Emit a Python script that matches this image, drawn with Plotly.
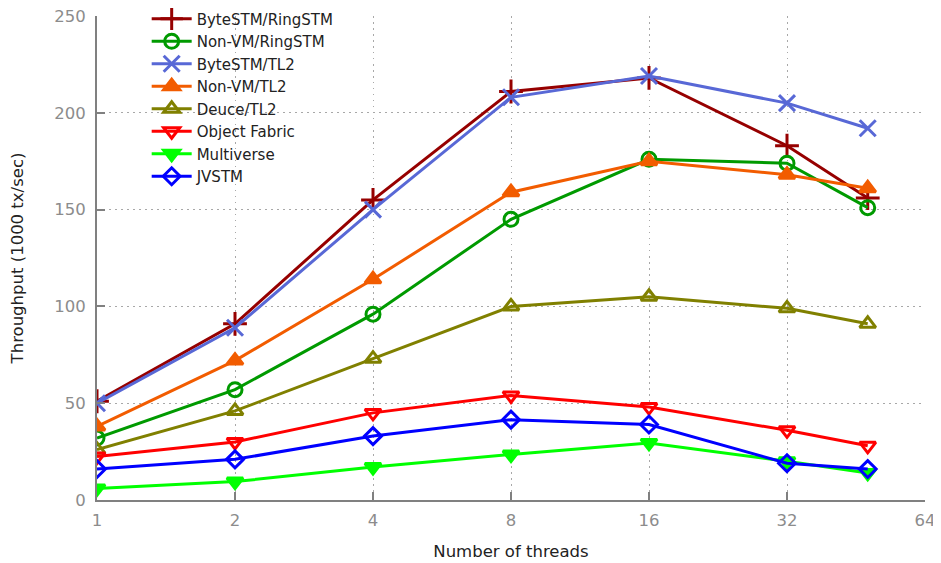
import plotly.graph_objects as go

threads = [1, 2, 4, 8, 16, 32, 48]
series_names = ["ByteSTM/RingSTM", "Non-VM/RingSTM", "ByteSTM/TL2", "Non-VM/TL2",
                "Deuce/TL2", "Object Fabric", "Multiverse", "JVSTM"]
bytestm_ringstm = [51, 91, 155, 211, 218, 183, 156]
nonvm_ringstm = [32, 57, 96, 145, 176, 174, 151]
bytestm_tl2 = [50, 89, 150, 208, 219, 205, 192]
nonvm_tl2 = [38, 72, 114, 159, 175, 168, 161]
deuce_tl2 = [26, 46, 73, 100, 105, 99, 91]
object_fabric = [22.5, 30, 45, 54, 48, 36, 28]
multiverse = [6, 9.5, 17, 23.5, 29.5, 20, 14]
jvstm = [16, 21, 33, 41.5, 39, 19, 16]
x_ticks = [1, 2, 4, 8, 16, 32, 64]
y_ticks = [0, 50, 100, 150, 200, 250]

values = [bytestm_ringstm, nonvm_ringstm, bytestm_tl2, nonvm_tl2,
          deuce_tl2, object_fabric, multiverse, jvstm]
colors = ["#960000", "#009a00", "#5868d6", "#f25c00", "#808000", "#ff0000", "#00ff00", "#0000ff"]
symbols = ["cross-thin-open", "circle-open", "x-thin-open", "triangle-up",
           "triangle-up-open", "triangle-down-open", "triangle-down", "diamond-open"]
sizes = [17, 14, 16, 14, 14, 14, 14, 13]

fig = go.Figure()
for name, vals, c, s, sz in zip(series_names, values, colors, symbols, sizes):
    fig.add_trace(go.Scatter(
        x=threads, y=vals, name=name, mode="lines+markers",
        line=dict(color=c, width=3),
        marker=dict(symbol=s, size=sz, color=c, line=dict(color=c, width=3)),
    ))

axis_common = dict(
    showline=True, linecolor="#808080", linewidth=2,
    ticks="inside", ticklen=8, tickcolor="#808080", tickwidth=2,
    tickfont=dict(family="DejaVu Sans", size=16.5, color="#8c8c8c"),
    showgrid=True, gridcolor="#a8a8a8", griddash="1.5px,4.5px", gridwidth=1.2,
    zeroline=False, mirror=False, automargin=False, ticklabeloverflow="allow",
)

fig.update_layout(
    width=941, height=563,
    paper_bgcolor="white", plot_bgcolor="white",
    margin=dict(l=89, r=24, t=8, b=71, autoexpand=False),
    font=dict(family="DejaVu Sans", size=16.5, color="#222222"),
    xaxis=dict(type="log", range=[0, 1.80618], tickvals=x_ticks,
               ticktext=[str(t) for t in x_ticks], ticklabelstandoff=4,
               title=dict(text="Number of threads", font=dict(size=16.5, color="#222222"), standoff=17),
               **axis_common),
    yaxis=dict(range=[0, 250], tickvals=y_ticks, ticklabelstandoff=6,
               title=dict(text="Throughput (1000 tx/sec)", font=dict(size=16.5, color="#222222"), standoff=34),
               **axis_common),
    legend=dict(x=0.06, y=1.0279, xanchor="left", yanchor="top",
                bgcolor="rgba(0,0,0,0)", borderwidth=0,
                font=dict(family="DejaVu Sans", size=15, color="#222222"),
                tracegroupgap=0, itemwidth=40),
    showlegend=True,
)

fig.write_html("out.html")
